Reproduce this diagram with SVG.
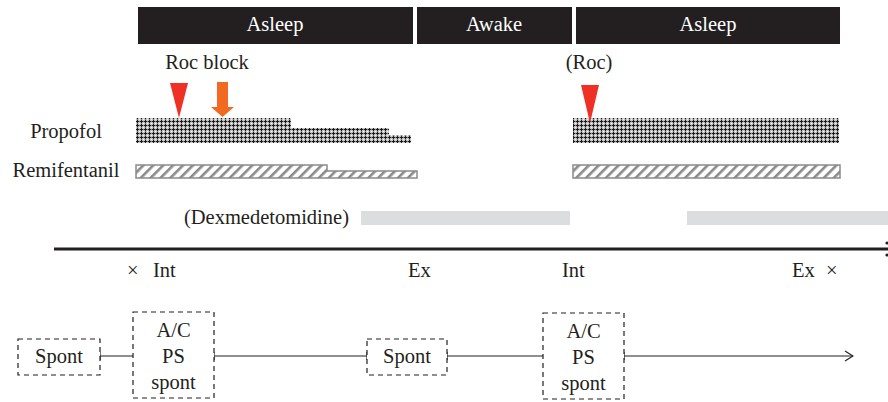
<svg xmlns="http://www.w3.org/2000/svg" width="888" height="402" viewBox="0 0 888 402" font-family="'Liberation Serif', 'Times New Roman', Times, serif">
<style>
text{font-family:'Liberation Serif','Times New Roman',Times,serif;fill:#231f20}
.bt{fill:#fff;font-size:20.5px;text-anchor:middle}
.lbl{font-size:20.5px}
.box{fill:#fff;stroke:#231f20;stroke-width:1.2;stroke-dasharray:5 4}
.conn{stroke:#231f20;stroke-width:1.2;fill:none}
.pro{fill:url(#chk)}
.rem{fill:url(#hatch);stroke:#8a8a8a;stroke-width:1.5}
.dex{fill:#dcdddf}
.bar{fill:#231f20}
</style>
<defs>
<pattern id="chk" width="4" height="4" patternUnits="userSpaceOnUse">
<rect width="4" height="4" fill="#c4c4c4"/>
<rect x="1" y="0" width="1" height="3" fill="#1a1a1a"/>
<rect x="0" y="1" width="3" height="1" fill="#1a1a1a"/>
<rect x="3" y="3" width="1" height="1" fill="#f4f4f4"/>
<rect x="3" y="1" width="1" height="1" fill="#888"/>
<rect x="1" y="3" width="1" height="1" fill="#888"/>
</pattern>
<pattern id="hatch" width="7" height="7" patternUnits="userSpaceOnUse" patternTransform="rotate(45)">
<rect width="7" height="7" fill="#fff"/>
<rect x="0" y="0" width="2.6" height="7" fill="#8a8a8a"/>
</pattern>
<marker id="tick" markerWidth="2" markerHeight="10" refX="1" refY="5" orient="auto" markerUnits="userSpaceOnUse">
<line x1="1" y1="1" x2="1" y2="9" stroke="#231f20" stroke-width="1.2"/>
</marker>
<marker id="arr" markerWidth="10" markerHeight="12" refX="9" refY="6" orient="auto" markerUnits="userSpaceOnUse">
<path d="M1,1 L9,6 L1,11" fill="none" stroke="#231f20" stroke-width="1.2"/>
</marker>
</defs>

<g id="state-bars">
<rect class="bar" x="138" y="7" width="275" height="37"/>
<text class="bt" x="275" y="31">Asleep</text>
<rect class="bar" x="417" y="7" width="155" height="37"/>
<text class="bt" x="494" y="31">Awake</text>
<rect class="bar" x="576" y="7" width="264" height="37"/>
<text class="bt" x="708" y="31">Asleep</text>
</g>

<g id="labels">
<text class="lbl" x="207" y="69" text-anchor="middle">Roc block</text>
<text class="lbl" x="589" y="69" text-anchor="middle">(Roc)</text>
<text class="lbl" x="66" y="138" text-anchor="middle">Propofol</text>
<text class="lbl" x="66" y="177" text-anchor="middle">Remifentanil</text>
<text class="lbl" x="349" y="224" text-anchor="end">(Dexmedetomidine)</text>
</g>

<g id="propofol">
<rect class="pro" x="136" y="118" width="155" height="25"/>
<rect class="pro" x="291" y="128" width="98" height="15"/>
<rect class="pro" x="389" y="135" width="22" height="8"/>
<rect class="pro" x="573" y="118" width="266" height="25"/>
</g>

<g id="remifentanil">
<path class="rem" d="M136,165 H327 V171 H417 V178 H136 Z"/>
<rect class="rem" x="573" y="165" width="267" height="13"/>
</g>

<g id="dexmedetomidine">
<rect class="dex" x="361" y="211" width="209" height="14"/>
<rect class="dex" x="687" y="211" width="201" height="14"/>
</g>

<g id="markers">
<path d="M170,83 L188,83 L179,118 Z" fill="#ee3124"/>
<path d="M217,82 H228 V107 H234 L222.5,117 L211,107 H217 Z" fill="#f26a21"/>
<path d="M581,85 L599,85 L590,123 Z" fill="#ee3124"/>
</g>

<g id="timeline">
<line x1="54" y1="249" x2="888" y2="249" stroke="#231f20" stroke-width="3"/>
<circle cx="887" cy="243" r="1.6" fill="#231f20"/>
<circle cx="887" cy="255" r="1.6" fill="#231f20"/>
<text class="lbl" x="127" y="277">×</text>
<text class="lbl" x="153" y="277">Int</text>
<text class="lbl" x="408" y="277">Ex</text>
<text class="lbl" x="562" y="277">Int</text>
<text class="lbl" x="792" y="277">Ex</text>
<text class="lbl" x="826" y="277">×</text>
</g>

<g id="connectors">
<line class="conn" x1="100" y1="356" x2="133" y2="356" marker-start="url(#tick)"/>
<line class="conn" x1="214" y1="356" x2="367" y2="356" marker-start="url(#tick)" marker-end="url(#tick)"/>
<line class="conn" x1="447" y1="356" x2="543" y2="356" marker-start="url(#tick)"/>
<line class="conn" x1="624" y1="356" x2="853" y2="356" marker-start="url(#tick)" marker-end="url(#arr)"/>
</g>

<g id="spont1">
<rect class="box" x="18" y="339" width="82" height="36"/>
<text class="lbl" x="59" y="363" text-anchor="middle">Spont</text>
</g>
<g id="acps1">
<rect class="box" x="133" y="312" width="81" height="86"/>
<text class="lbl" x="173.5" y="337" text-anchor="middle">A/C</text>
<text class="lbl" x="173.5" y="363" text-anchor="middle">PS</text>
<text class="lbl" x="173.5" y="389" text-anchor="middle">spont</text>
</g>
<g id="spont2">
<rect class="box" x="367" y="339" width="80" height="36"/>
<text class="lbl" x="407" y="363" text-anchor="middle">Spont</text>
</g>
<g id="acps2">
<rect class="box" x="543" y="313" width="81" height="86"/>
<text class="lbl" x="583.5" y="338" text-anchor="middle">A/C</text>
<text class="lbl" x="583.5" y="364" text-anchor="middle">PS</text>
<text class="lbl" x="583.5" y="390" text-anchor="middle">spont</text>
</g>
</svg>
